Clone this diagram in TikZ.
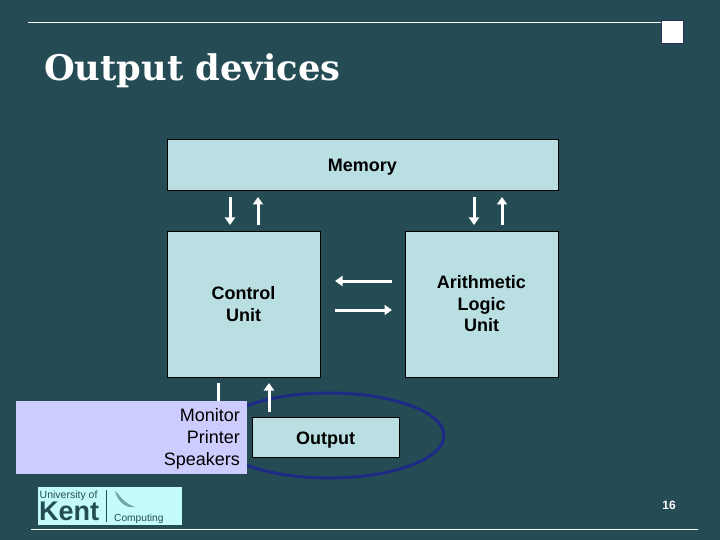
\documentclass[tikz,border=0pt]{standalone}
\usepackage{fontspec}
\setmainfont{Liberation Sans}
\newfontfamily\titlefont{DejaVu Serif}
\usetikzlibrary{arrows.meta,shapes.geometric}
\definecolor{bgc}{HTML}{254C54}
\definecolor{boxc}{HTML}{BADFE3}
\definecolor{lilac}{HTML}{CCCCFF}
\definecolor{navy2}{HTML}{1F2A86}
\definecolor{logoc}{HTML}{C4FBFB}
\definecolor{sqedge}{HTML}{2A2F5C}
\tikzset{
  unitbox/.style={draw=black,line width=0.8pt,fill=boxc,inner sep=0pt,align=center,font=\bfseries\fontsize{18}{21.5}\selectfont,text=black},
  flow/.style={draw=white,line width=3pt,-{Triangle[length=7.5pt,width=10pt]},shorten >=0pt},
  rule/.style={draw=white,line width=1pt}
}
\begin{document}
\begin{tikzpicture}[x=1pt,y=-1pt]
\useasboundingbox[fill=bgc] (0,0) rectangle (720,540);
% rules
\coordinate (tl) at (28,23); \coordinate (tr) at (661,23);
\coordinate (bl) at (31,529); \coordinate (br) at (698,529);
\draw[rule] (tl) -- (tr);
\draw[rule] (bl) -- (br);
\node[draw=sqedge,line width=1pt,fill=white,minimum width=22pt,minimum height=23pt,inner sep=0pt] (sq) at (672,32.5) {};
% title
\node[anchor=base west,inner sep=0pt,text=white,font=\titlefont\bfseries\fontsize{35.3}{40}\selectfont] (title) at (44,81) {Output devices};
% boxes
\node[unitbox,text height=17pt,text depth=2pt,minimum width=391pt,minimum height=51pt] (mem) at (362.5,164.5) {Memory};
\node[unitbox,minimum width=153pt,minimum height=146pt] (cu) at (243.5,304) {Control\\Unit};
\node[unitbox,minimum width=153pt,minimum height=146pt] (alu) at (481.5,304) {Arithmetic\\Logic\\Unit};
% ellipse
\node[draw=navy2,line width=3pt,ellipse,minimum width=230pt,minimum height=85pt,inner sep=0pt] (ring) at (329,435.5) {};
% arrows
\coordinate (a1) at (230,197); \coordinate (a2) at (230,225);
\coordinate (b1) at (258,225); \coordinate (b2) at (258,197);
\coordinate (c1) at (474,197); \coordinate (c2) at (474,225);
\coordinate (d1) at (502,225); \coordinate (d2) at (502,197);
\coordinate (e1) at (392,281); \coordinate (e2) at (335,281);
\coordinate (f1) at (335,310); \coordinate (f2) at (392,310);
\coordinate (g1) at (218,383); \coordinate (g2) at (218,412);
\coordinate (h1) at (269,412); \coordinate (h2) at (269,383);
\draw[flow] (a1) -- (a2);
\draw[flow] (b1) -- (b2);
\draw[flow] (c1) -- (c2);
\draw[flow] (d1) -- (d2);
\draw[flow] (e1) -- (e2);
\draw[flow] (f1) -- (f2);
\draw[flow] (g1) -- (g2);
\draw[flow] (h1) -- (h2);
% output
\node[unitbox,text height=16pt,text depth=3pt,minimum width=147pt,minimum height=40pt] (out) at (325.5,437.5) {Output};
\node[fill=lilac,minimum width=231pt,minimum height=73pt,inner sep=0pt] (devs) at (131.5,437.5) {};
\node[anchor=east,align=right,inner sep=0pt,text=black,font=\fontsize{18}{22}\selectfont] (devt) at (240,438.5) {Monitor\\Printer\\Speakers};
% logo
\node[fill=logoc,minimum width=144pt,minimum height=38pt,inner sep=0pt] (logo) at (110,506) {};
\node[anchor=base west,inner sep=0pt,text=bgc,font=\fontsize{10.5}{12}\selectfont] (l1) at (39.5,498) {University of};
\node[anchor=base west,inner sep=0pt,text=bgc,font=\bfseries\fontsize{27}{28}\selectfont] (l2) at (39,520.5) {Kent};
\node[anchor=base west,inner sep=0pt,text=bgc,font=\fontsize{10.2}{11}\selectfont] (l3) at (114,521.5) {Computing};
\coordinate (v1) at (106,490); \coordinate (v2) at (106,522);
\draw[bgc,line width=0.6pt] (v1) -- (v2);
\fill[bgc!50!logoc] (115,491) .. controls (119,493) and (121,502) .. (135,507) .. controls (125,509) and (117,500) .. (115,491) -- cycle;
% page number
\node[inner sep=0pt,text=white,font=\bfseries\fontsize{12}{14}\selectfont] (num) at (669,505) {16};
\end{tikzpicture}
\end{document}
